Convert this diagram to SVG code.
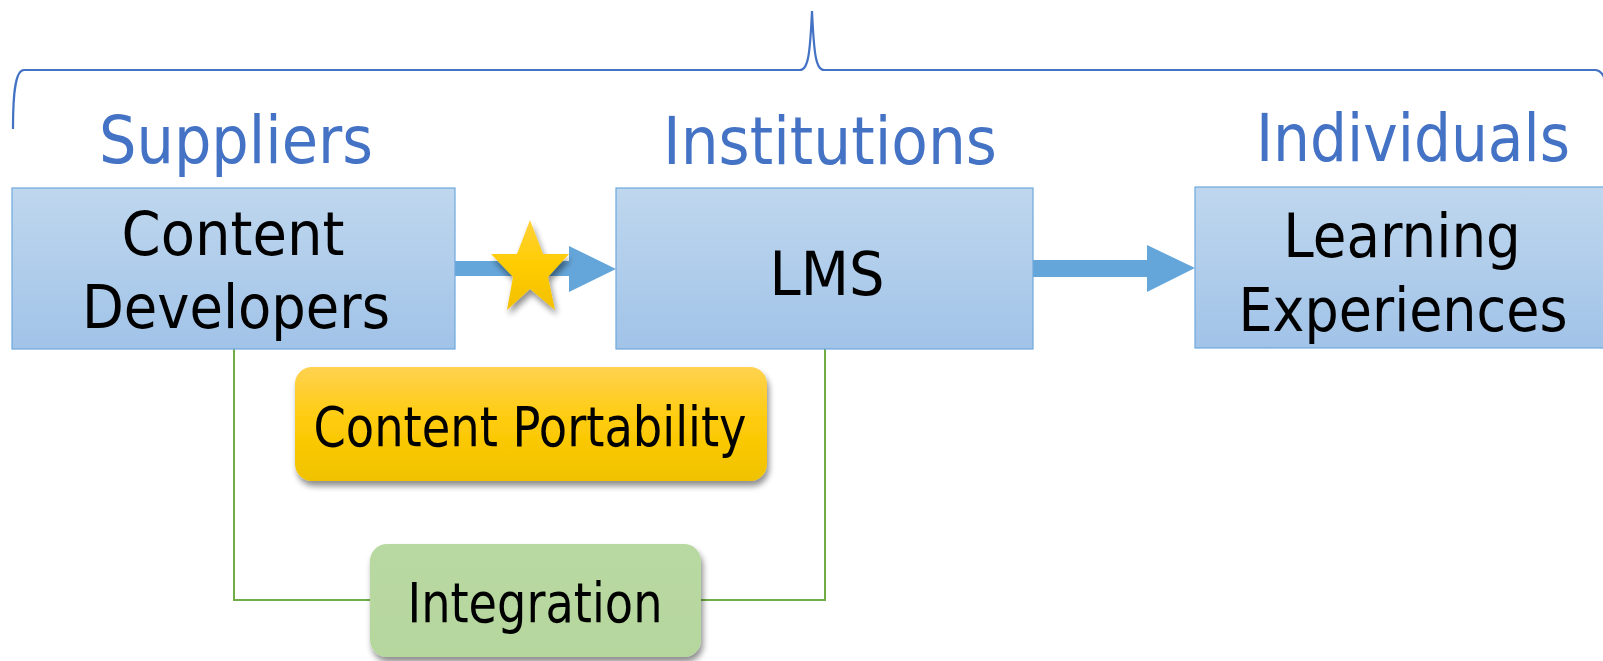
<svg xmlns="http://www.w3.org/2000/svg" width="1603" height="661" viewBox="0 0 1603 661">
<style>
.hdr{font-family:"DejaVu Sans","Liberation Sans",sans-serif;font-size:66px;fill:#4472C4;text-anchor:middle}
.lbl{font-family:"DejaVu Sans","Liberation Sans",sans-serif;font-size:61px;fill:#000;text-anchor:middle}
.sm{font-family:"DejaVu Sans","Liberation Sans",sans-serif;font-size:56px;fill:#000;text-anchor:middle}
.box{fill:url(#blueG);stroke:#6FA8DC;stroke-width:1.2}
.arrow{fill:#65A6DA}
.conn{fill:none;stroke:#70AD47;stroke-width:2}
</style>
<defs>
<linearGradient id="blueG" x1="0" y1="0" x2="0" y2="1">
<stop offset="0" stop-color="#BFD7EE"/>
<stop offset="1" stop-color="#A1C3E8"/>
</linearGradient>
<linearGradient id="goldG" x1="0" y1="0" x2="0" y2="1">
<stop offset="0" stop-color="#FFD250"/>
<stop offset="0.5" stop-color="#FFCB08"/>
<stop offset="1" stop-color="#EFC200"/>
</linearGradient>
<linearGradient id="starG" x1="0" y1="0" x2="0" y2="1">
<stop offset="0" stop-color="#FFD23A"/>
<stop offset="0.5" stop-color="#FFCC00"/>
<stop offset="1" stop-color="#F2C000"/>
</linearGradient>
<linearGradient id="greenG" x1="0" y1="0" x2="0" y2="1">
<stop offset="0" stop-color="#B9D9A2"/>
<stop offset="1" stop-color="#B5D69D"/>
</linearGradient>
<filter id="shadow" x="-10%" y="-10%" width="125%" height="135%">
<feGaussianBlur in="SourceAlpha" stdDeviation="3"/>
<feOffset dx="2" dy="5" result="b"/>
<feComponentTransfer><feFuncA type="linear" slope="0.45"/></feComponentTransfer>
<feMerge><feMergeNode/><feMergeNode in="SourceGraphic"/></feMerge>
</filter>
</defs>

<g id="brace">
<path d="M13,129 C13,95 15,70 24,70 L800,70 C808,70 810,55 812,11 C814,55 816,70 824,70 L1595,70 C1600,70 1603,74 1605,80" fill="none" stroke="#4472C4" stroke-width="2.2"/>
</g>

<g id="headers">
<text class="hdr" x="236" y="163" textLength="274" lengthAdjust="spacingAndGlyphs">Suppliers</text>
<text class="hdr" x="830" y="164" textLength="334" lengthAdjust="spacingAndGlyphs">Institutions</text>
<text class="hdr" transform="translate(1413,161) scale(0.88,1)" x="0" y="0" textLength="357" lengthAdjust="spacingAndGlyphs">Individuals</text>
</g>

<g id="connectors">
<path class="conn" d="M234,349 V600 H372"/>
<path class="conn" d="M825,349 V600 H699"/>
<path class="arrow" d="M455,261 H569 V246 L616,269 L569,292 V276 H455 Z"/>
<path class="arrow" d="M1033,260 H1147 V245 L1195,268 L1147,292 V277 H1033 Z"/>
</g>

<g id="node-content-developers">
<rect class="box" x="12" y="188" width="443" height="161"/>
<text class="lbl" x="233" y="255" textLength="223" lengthAdjust="spacingAndGlyphs">Content</text>
<text class="lbl" x="236" y="328" textLength="308" lengthAdjust="spacingAndGlyphs">Developers</text>
</g>

<g id="node-lms">
<rect class="box" x="616" y="188" width="417" height="161"/>
<text class="lbl" x="827" y="295" textLength="115" lengthAdjust="spacingAndGlyphs">LMS</text>
</g>

<g id="node-learning-experiences">
<rect class="box" x="1195" y="187" width="420" height="161"/>
<text class="lbl" transform="translate(1402,257) scale(0.89,1)" x="0" y="0" textLength="267" lengthAdjust="spacingAndGlyphs">Learning</text>
<text class="lbl" transform="translate(1403,331) scale(0.88,1)" x="0" y="0" textLength="374" lengthAdjust="spacingAndGlyphs">Experiences</text>
</g>

<g id="star">
<polygon points="530,220 543,254 569,254 548,277 555,310 530,289 507,310 513,277 491,254 517,254" fill="url(#starG)" filter="url(#shadow)"/>
</g>

<g id="node-content-portability">
<rect x="295" y="367" width="472" height="114" rx="17" fill="url(#goldG)" filter="url(#shadow)"/>
<text class="sm" x="530" y="446" textLength="433" lengthAdjust="spacingAndGlyphs">Content Portability</text>
</g>

<g id="node-integration">
<rect x="370" y="544" width="331" height="113" rx="17" fill="url(#greenG)" filter="url(#shadow)"/>
<text class="sm" x="535" y="622" textLength="255" lengthAdjust="spacingAndGlyphs">Integration</text>
</g>
</svg>
